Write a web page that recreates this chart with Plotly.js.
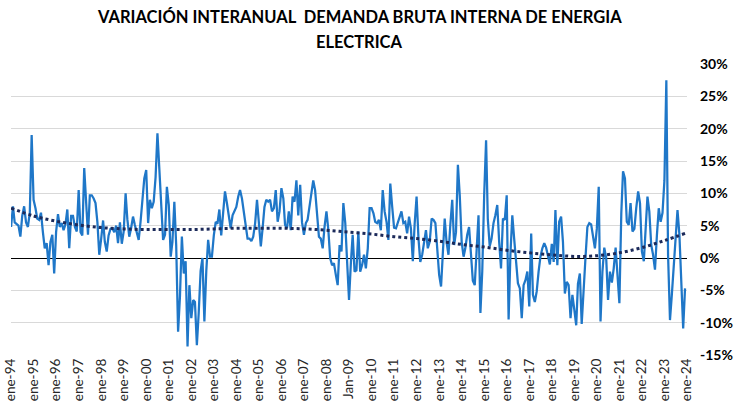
<!DOCTYPE html>
<html>
<head>
<meta charset="utf-8">
<script src="https://cdn.plot.ly/plotly-3.0.1.min.js"></script>
<style>
  html, body { margin: 0; padding: 0; background: #ffffff; }
  #chart { width: 736px; height: 406px; }
</style>
</head>
<body>
<div id="chart"></div>
<script>
// Monthly year-on-year variation (%), starting January 1994
const startYear = 1994;
const values1994_2003 = [
  4.8, 8.0, 5.5, 5.3, 5.0, 3.3, 6.5, 8.0, 5.5, 4.8, 7.0, 19.0,
  9.0, 7.7, 6.1, 5.9, 7.0, 4.0, 1.5, 2.3, -1.1, 2.5, 3.6, -2.4,
  4.0, 6.8, 4.8, 5.4, 4.3, 5.2, 7.5, 1.5, 6.5, 6.5, 4.8, 4.1,
  10.5, 4.0, 3.5, 13.9, 9.5, 3.6, 9.7, 9.7, 9.2, 8.5, 5.5, 0.5,
  3.0, 5.8, 2.5, 1.0, 3.5, 4.5, 4.6, 4.0, 5.0, 2.3, 5.5, 2.2,
  4.1, 10.0, 6.0, 3.3, 4.6, 6.4, 5.1, 4.1, 2.8, 5.6, 9.2, 12.3,
  13.6, 5.4, 9.0, 7.7, 8.7, 12.5, 19.3, 14.0, 7.5, 2.8, 3.6, 11.0,
  8.2, 0.2, 2.5, 8.7, 2.0, -11.4, -6.0, 3.3, -2.4, -0.5, -13.7, -4.2,
  -9.3, -6.5, -6.8, -13.5, -8.5, -2.0, 0.0, -9.8, -2.0, 2.8, 0.2, 0.2,
  3.5, 5.6, 5.3, 7.5, 3.5, 6.8, 10.3, 8.5, 6.6, 4.6, 6.6, 7.4
];
const values2004_2013 = [
  7.9, 9.5, 10.5, 9.2, 6.9, 5.1, 3.0, 3.0, 2.6, 3.3, 5.4, 9.0,
  5.9, 1.8, 4.5, 7.9, 9.0, 8.7, 9.0, 7.2, 7.7, 10.5, 5.6, 7.2,
  10.8, 9.2, 5.1, 4.6, 7.2, 4.3, 9.5, 8.7, 12.0, 6.6, 11.3, 5.5,
  3.6, 5.4, 5.9, 7.9, 10.3, 12.0, 10.5, 7.2, 3.3, 3.0, 1.5, 4.8,
  7.2, 4.3, 0.0, -1.1, -0.8, -2.6, -4.2, 2.0, 1.0, 8.5, 5.4, -0.6,
  -6.5, -0.6, 3.6, -2.1, -1.9, 4.1, -2.1, -1.1, 0.5, -1.6, 1.5, 7.7,
  7.7, 6.9, 5.6, 5.4, 5.9, 4.3, 10.5, 7.2, 5.6, 2.8, 11.5, 8.0,
  4.7, 4.6, 5.4, 6.2, 7.2, 5.4, 5.6, 3.8, 6.4, 4.6, -0.5, 5.3,
  9.5, 3.0, -0.6, 0.5, 2.3, 4.3, 1.5, 2.5, 6.1, 5.9, 5.4, 1.0,
  -2.6, -4.4, 1.5, 6.1, 2.5, 0.5, 5.1, 9.0, 2.0, 4.0, 14.4, 9.7
];
const values2014_2023 = [
  2.5, 0.2, 1.5, 3.6, 4.8, 1.0, -3.5, -4.2, 2.5, 6.6, -8.5, -2.0,
  9.7, 18.2, 6.0, 1.8, 3.0, 5.4, 6.6, 8.2, 2.5, -1.6, 6.1, 5.9,
  9.7, -9.5, 0.5, 6.6, 3.0, -1.1, -3.9, -4.7, -9.3, -4.2, -3.4, -2.1,
  -7.5, 3.8, -5.7, -6.8, -5.2, -2.1, 0.2, 1.5, 2.3, 1.6, 0.0, -1.0,
  2.2, -0.6, 7.4, -1.1, 5.6, 6.4, 2.5, -5.5, -3.7, -4.2, -9.3, -5.7,
  -8.0, -10.4, -4.0, -2.4, -10.2, -4.0, 0.0, 4.8, 5.4, 5.2, 3.1, 1.5,
  4.5, 11.0, -9.8, -2.1, 1.6, 0.0, -6.5, -2.1, -3.8, -1.6, 1.6, -2.1,
  -7.0, 7.0, 13.4, 12.3, 5.6, 5.1, 8.5, 4.1, 4.5, 7.7, 10.3, 8.5,
  1.0, -0.5, 4.0, 9.5, 7.2, 2.0, 0.5, -1.8, 3.5, 7.7, 5.6, 7.0,
  12.0, 27.5, 0.5, -9.6, -5.7, -1.1, 3.0, 7.4, 3.6, -4.2, -10.9, -4.7
];

// Polynomial trend line
const trendDates = [
  '1994-01-01','1995-01-01','1996-01-01','1997-01-01','1998-01-01','1999-01-01',
  '2000-01-01','2001-01-01','2002-01-01','2003-01-01','2004-01-01','2005-01-01',
  '2006-01-01','2007-01-01','2008-01-01','2009-01-01','2010-01-01','2011-01-01',
  '2012-01-01','2013-01-01','2014-01-01','2015-01-01','2016-01-01','2017-01-01',
  '2018-01-01','2019-01-01','2020-01-01','2021-01-01','2022-01-01','2023-01-01',
  '2023-12-01'
];
const trendValues = [
  7.7, 6.5, 5.7, 5.1, 4.7, 4.5,
  4.4, 4.4, 4.4, 4.5, 4.6, 4.6,
  4.6, 4.5, 4.3, 4.0, 3.7, 3.3,
  3.0, 2.6, 2.1, 1.7, 1.2, 0.8,
  0.5, 0.25, 0.35, 0.8, 1.6, 2.7,
  3.8
];

// Tick labels (one per January)
const tickYears = [];
for (let y = 1994; y <= 2024; y++) tickYears.push(y);
const tickText = [
  'ene-94','ene-95','ene-96','ene-97','ene-98','ene-99','ene-00','ene-01',
  'ene-02','ene-03','ene-04','ene-05','ene-06','ene-07','ene-08','Jan-09',
  'ene-10','ene-11','ene-12','ene-13','ene-14','ene-15','ene-16','ene-17',
  'ene-18','ene-19','ene-20','ene-21','ene-22','ene-23','ene-24'
];
const yTickVals = [-15, -10, -5, 0, 5, 10, 15, 20, 25, 30];
const yTickText = ['-15%', '-10%', '-5%', '0%', '5%', '10%', '15%', '20%', '25%', '30%'];

const values = values1994_2003.concat(values2004_2013, values2014_2023);
const dates = values.map((v, i) => {
  const y = startYear + Math.floor(i / 12);
  const m = (i % 12) + 1;
  return y + '-' + (m < 10 ? '0' + m : m) + '-01';
});
const tickVals = tickYears.map(y => y + '-01-01');

const traces = [
  {
    type: 'scatter', mode: 'lines', x: dates, y: values,
    line: { color: '#1f77c8', width: 2.25 },
    hoverinfo: 'x+y', showlegend: false
  },
  {
    type: 'scatter', mode: 'lines', x: trendDates, y: trendValues,
    line: { color: '#1c2a5a', width: 3, dash: 'dot', shape: 'spline', smoothing: 1 },
    hoverinfo: 'skip', showlegend: false
  }
];

const layout = {
  width: 736, height: 406,
  margin: { l: 11, r: 49, t: 64, b: 51 },
  paper_bgcolor: '#ffffff', plot_bgcolor: '#ffffff',
  showlegend: false,
  xaxis: {
    type: 'date',
    range: ['1993-12-31', '2024-01-02'],
    tickmode: 'array', tickvals: tickVals, ticktext: tickText,
    tickangle: -90,
    tickfont: { family: 'Lato, sans-serif', size: 13.5, color: '#262626' },
    showgrid: false, zeroline: false, showline: false, ticks: ''
  },
  yaxis: {
    side: 'right',
    range: [-15, 30],
    tickmode: 'array', tickvals: yTickVals, ticktext: yTickText,
    tickfont: { family: 'Lato, sans-serif', size: 14, color: '#000000', weight: 'bold' },
    ticklabelstandoff: 12,
    showgrid: true, gridcolor: '#d9d9d9', gridwidth: 1,
    zeroline: true, zerolinecolor: '#000000', zerolinewidth: 1,
    showline: false, ticks: ''
  },
  annotations: [
    {
      text: '<b>VARIACIÓN INTERANUAL  DEMANDA BRUTA INTERNA DE ENERGIA</b>',
      xref: 'paper', yref: 'paper', x: 0.5148, y: 1.161,
      xanchor: 'center', yanchor: 'middle', showarrow: false,
      font: { family: 'Lato, sans-serif', size: 16.5, color: '#000000' }
    },
    {
      text: '<b>ELECTRICA</b>',
      xref: 'paper', yref: 'paper', x: 0.5148, y: 1.0768,
      xanchor: 'center', yanchor: 'middle', showarrow: false,
      font: { family: 'Lato, sans-serif', size: 16.5, color: '#000000' }
    }
  ]
};

Plotly.newPlot('chart', traces, layout, { displayModeBar: false, staticPlot: true });
</script>
</body>
</html>
